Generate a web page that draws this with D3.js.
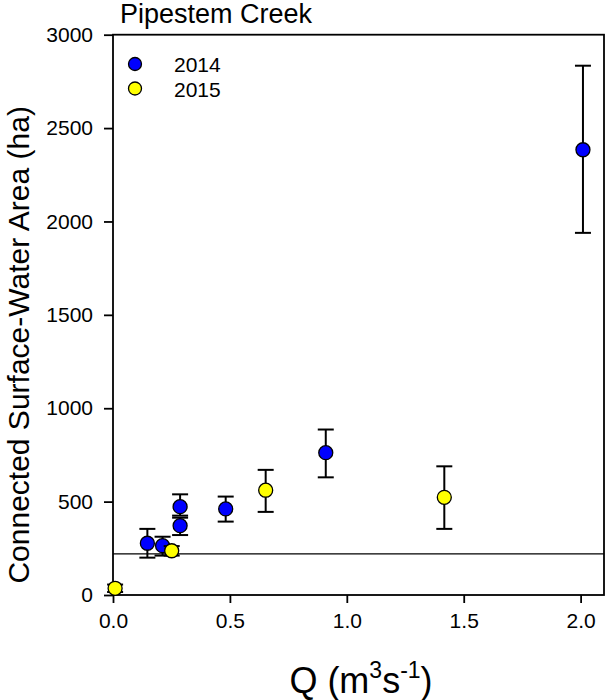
<!DOCTYPE html>
<html>
<head>
<meta charset="utf-8">
<script src="https://cdn.jsdelivr.net/npm/d3@7"></script>
<style>
  html, body { margin: 0; padding: 0; background: #fff; }
  svg { display: block; font-family: Arial, "Liberation Sans", sans-serif; }
</style>
</head>
<body>
<svg id="chart" width="606" height="700"></svg>
<script>
// ---- data ----
const q2014 = [0.147, 0.212, 0.287, 0.287, 0.482, 0.910, 2.010];
const area2014 = [277, 264, 473, 371, 461, 762, 2384];
const low2014 = [200, 211, 425, 321, 393, 630, 1939];
const high2014 = [354, 312, 539, 414, 527, 886, 2834];

const q2015 = [0.009, 0.251, 0.653, 1.417];
const area2015 = [36, 237, 561, 523];
const low2015 = [16, 211, 445, 354];
const high2015 = [56, 262, 670, 689];

const refLine = 220;
const xTicks = [0, 0.5, 1.0, 1.5, 2.0];
const yTicks = [0, 500, 1000, 1500, 2000, 2500, 3000];
const seriesNames = ["2014", "2015"];
const seriesColors = ["#0000ff", "#ffff00"];
const titleText = "Pipestem Creek";
const yLabel = "Connected Surface-Water Area (ha)";

// ---- layout ----
const svg = d3.select("#chart");
const L = 113, R = 604, T = 34.7, B = 595;
const x = d3.scaleLinear().domain([0, 2.1]).range([L, R]);
const y = d3.scaleLinear().domain([0, 3000]).range([B, T]);

// axes
const xAxis = d3.axisBottom(x).tickValues(xTicks).tickFormat(d3.format(".1f")).tickSize(8).tickPadding(10);
const yAxis = d3.axisLeft(y).tickValues(yTicks).tickFormat(d3.format("d")).tickSize(9).tickPadding(11);

const gx = svg.append("g").attr("transform", `translate(0,${B})`).call(xAxis);
const gy = svg.append("g").attr("transform", `translate(${L},0)`).call(yAxis);
[gx, gy].forEach(g => {
  g.select(".domain").remove();
  g.selectAll(".tick line").attr("stroke", "#000").attr("stroke-width", 1.8);
  g.selectAll(".tick text").attr("fill", "#000").style("font-size", "21px")
    .style("font-family", "Arial, 'Liberation Sans', sans-serif");
});

// frame
svg.append("rect")
  .attr("x", L).attr("y", T).attr("width", R - L).attr("height", B - T)
  .attr("fill", "none").attr("stroke", "#000").attr("stroke-width", 1.8);

// reference line
svg.append("line")
  .attr("x1", L).attr("x2", R)
  .attr("y1", y(refLine)).attr("y2", y(refLine))
  .attr("stroke", "#000").attr("stroke-width", 1.3);

// series
const series = [
  { q: q2014, a: area2014, lo: low2014, hi: high2014, color: seriesColors[0] },
  { q: q2015, a: area2015, lo: low2015, hi: high2015, color: seriesColors[1] }
];
const capW = 8;
series.forEach(s => {
  const data = s.q.map((q, i) => ({ q, a: s.a[i], lo: s.lo[i], hi: s.hi[i] }));
  const g = svg.append("g");
  const eb = g.selectAll("g.eb").data(data).enter().append("g")
    .attr("stroke", "#000").attr("stroke-width", 2);
  eb.append("line").attr("x1", d => x(d.q)).attr("x2", d => x(d.q))
    .attr("y1", d => y(d.lo)).attr("y2", d => y(d.hi));
  eb.append("line").attr("x1", d => x(d.q) - capW).attr("x2", d => x(d.q) + capW)
    .attr("y1", d => y(d.hi)).attr("y2", d => y(d.hi));
  eb.append("line").attr("x1", d => x(d.q) - capW).attr("x2", d => x(d.q) + capW)
    .attr("y1", d => y(d.lo)).attr("y2", d => y(d.lo));
  g.selectAll("circle").data(data).enter().append("circle")
    .attr("cx", d => x(d.q)).attr("cy", d => y(d.a)).attr("r", 7)
    .attr("fill", s.color).attr("stroke", "#000").attr("stroke-width", 1.3);
});

// legend
seriesNames.forEach((name, i) => {
  const ly = 64 + i * 24.5;
  svg.append("circle").attr("cx", 135).attr("cy", ly).attr("r", 6.5)
    .attr("fill", seriesColors[i]).attr("stroke", "#000").attr("stroke-width", 1.3);
  svg.append("text").attr("x", 174).attr("y", ly + 8).text(name)
    .style("font-size", "21px").attr("fill", "#000");
});

// title
svg.append("text").attr("x", 120).attr("y", 23).text(titleText)
  .style("font-size", "27px").attr("fill", "#000");

// y label
svg.append("text")
  .attr("transform", `translate(29,${(T + B) / 2 + 30}) rotate(-90)`)
  .attr("text-anchor", "middle").text(yLabel)
  .style("font-size", "30px").attr("fill", "#000");

// x label
const xl = svg.append("text").attr("x", 361).attr("y", 693)
  .attr("text-anchor", "middle").style("font-size", "36px").attr("fill", "#000");
xl.append("tspan").text("Q (m");
xl.append("tspan").attr("dy", -15).style("font-size", "23px").text("3");
xl.append("tspan").attr("dy", 15).text("s");
xl.append("tspan").attr("dy", -15).style("font-size", "23px").text("-1");
xl.append("tspan").attr("dy", 15).text(")");
</script>
</body>
</html>
